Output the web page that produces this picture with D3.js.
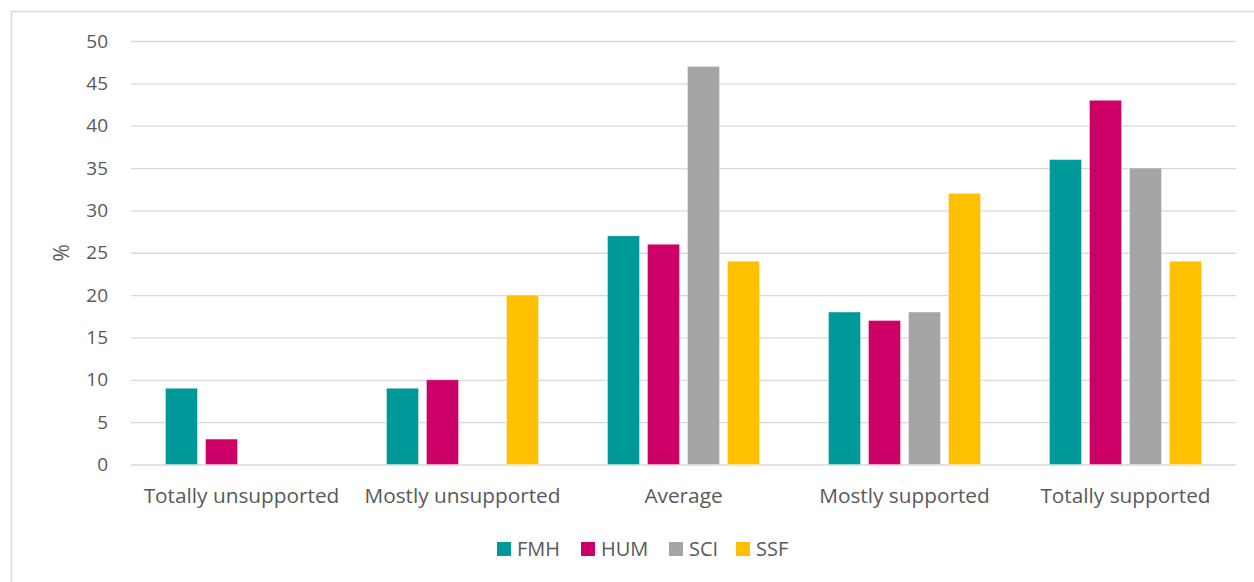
<!DOCTYPE html>
<html>
<head>
<meta charset="utf-8">
<script src="https://cdn.jsdelivr.net/npm/d3@7"></script>
<style>
  html, body { margin: 0; padding: 0; background: #fff; }
  svg { display: block; font-family: "Open Sans", "Noto Sans", sans-serif; }
</style>
</head>
<body>
<svg id="chart" width="1254" height="582"></svg>
<script>
// Survey responses by faculty (%)
const categories = ["Totally unsupported", "Mostly unsupported", "Average", "Mostly supported", "Totally supported"];
const seriesNames = ["FMH", "HUM", "SCI", "SSF"];
const FMH = [9, 9, 27, 18, 36];
const HUM = [3, 10, 26, 17, 43];
const SCI = [0, 0, 47, 18, 35];
const SSF = [0, 20, 24, 32, 24];
const yTicks = [0, 5, 10, 15, 20, 25, 30, 35, 40, 45, 50];
const colors = ["#009999", "#CC0066", "#A5A5A5", "#FFC000"];

const seriesValues = [FMH, HUM, SCI, SSF];
const svg = d3.select("#chart");

// outer frame
svg.append("rect")
  .attr("x", 11.5).attr("y", 11.5)
  .attr("width", 1260).attr("height", 600)
  .attr("fill", "none").attr("stroke", "#d9d9d9").attr("stroke-width", 1.5);

const plotLeft = 131, plotRight = 1236, plotTop = 41, plotBottom = 464.5;

const x0 = d3.scaleBand().domain(categories).range([plotLeft, plotRight]).paddingInner(0).paddingOuter(0);
const groupW = 152;
const x1 = d3.scaleBand().domain(seriesNames).range([0, groupW]).paddingInner(0.2).paddingOuter(0);
const y = d3.scaleLinear().domain([0, 50]).range([plotBottom, plotTop]);

// gridlines
const grid = svg.append("g")
  .attr("transform", `translate(${plotLeft},0)`)
  .call(d3.axisLeft(y).tickValues(yTicks).tickSize(-(plotRight - plotLeft)).tickFormat(""));
grid.select(".domain").remove();
grid.selectAll("line").attr("stroke", "#d9d9d9").attr("stroke-width", 1.3);

// y tick labels
svg.append("g").selectAll("text")
  .data(yTicks).join("text")
  .attr("x", 108).attr("y", d => y(d))
  .attr("dy", "0.35em")
  .attr("text-anchor", "end")
  .attr("font-size", 19)
  .attr("fill", "#595959")
  .text(d => d);

// y axis title
svg.append("text")
  .attr("transform", `translate(69,${(plotTop + plotBottom) / 2}) rotate(-90)`)
  .attr("text-anchor", "middle")
  .attr("font-size", 21)
  .attr("fill", "#595959")
  .text("%");

// bars
const groups = svg.append("g").selectAll("g")
  .data(categories).join("g")
  .attr("transform", d => `translate(${x0(d) + x0.bandwidth() / 2 - groupW / 2},0)`);

groups.selectAll("rect")
  .data((c, i) => seriesNames.map((s, j) => ({ s, j, v: seriesValues[j][i] })).filter(d => d.v > 0))
  .join("rect")
  .attr("x", d => x1(d.s))
  .attr("y", d => y(d.v))
  .attr("width", x1.bandwidth())
  .attr("height", d => y(0) - y(d.v))
  .attr("fill", d => colors[d.j])
  .attr("stroke", "#ffffff")
  .attr("stroke-opacity", 0.35)
  .attr("stroke-width", 1);

// category labels
svg.append("g").selectAll("text")
  .data(categories).join("text")
  .attr("x", d => x0(d) + x0.bandwidth() / 2)
  .attr("y", 503)
  .attr("text-anchor", "middle")
  .attr("font-size", 20.8)
  .attr("fill", "#595959")
  .text(d => d);

// legend
const legendX = [497, 581, 669, 736];
const legend = svg.append("g").selectAll("g")
  .data(seriesNames).join("g")
  .attr("transform", (d, i) => `translate(${legendX[i]},542)`);
legend.append("rect")
  .attr("width", 14).attr("height", 14)
  .attr("fill", (d, i) => colors[i]);
legend.append("text")
  .attr("x", 20).attr("y", 7)
  .attr("dy", "0.36em")
  .attr("font-size", 20)
  .attr("fill", "#595959")
  .text(d => d);
</script>
</body>
</html>
